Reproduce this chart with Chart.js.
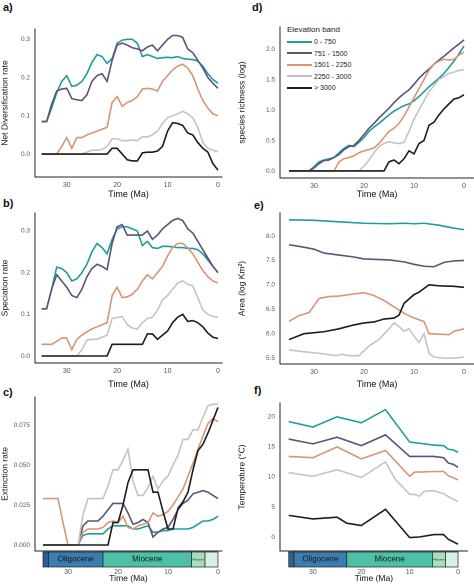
<!DOCTYPE html>
<html><head><meta charset="utf-8">
<script src="https://cdn.jsdelivr.net/npm/chart.js@4"></script>
<style>
body{margin:0;background:#fff;width:474px;height:584px;position:relative;overflow:hidden;font-family:"Liberation Sans",Arial,sans-serif}
canvas{position:absolute}
.lab{position:absolute;font-weight:bold;font-size:11px;color:#111}
#leg{position:absolute;left:287px;top:25px;font-size:7px;color:#222}
#leg .t{font-size:8px;margin-bottom:2px}
#leg .r{height:11.5px;display:flex;align-items:center}
#leg .r span{display:inline-block;width:25px;height:2px;margin-right:2px}
</style></head><body>
<div class="lab" style="left:3px;top:1px">a)</div>
<div class="lab" style="left:3px;top:197px">b)</div>
<div class="lab" style="left:3px;top:386px">c)</div>
<div class="lab" style="left:252px;top:1px">d)</div>
<div class="lab" style="left:254px;top:199px">e)</div>
<div class="lab" style="left:254px;top:384px">f)</div>
<div id="leg"></div>
<canvas id="ca"></canvas><canvas id="cb"></canvas><canvas id="cc"></canvas>
<canvas id="cd"></canvas><canvas id="ce"></canvas><canvas id="cf"></canvas>
<script>
const bands=["0 - 750","751 - 1500","1501 - 2250","2250 - 3000","> 3000"];
const colors=["#1f9c9c","#5d5278","#d89574","#c4c4c4","#1c1c1c"];
const times=[35,34,33,32,31,30,29,28,27,26,25,24,23,22,21,20,19,18,17,16,15,14,13,12,11,10,9,8,7,6,5,4,3,2,1,0];
// a) net diversification
const netDiv=[
[.085,.085,.12,.16,.19,.205,.177,.18,.19,.21,.24,.26,.255,.237,.25,.29,.298,.30,.30,.29,.255,.26,.255,.25,.252,.253,.252,.255,.25,.248,.247,.243,.23,.21,.195,.185],
[.085,.085,.13,.165,.17,.172,.145,.142,.14,.155,.19,.205,.21,.19,.245,.285,.29,.285,.278,.275,.27,.28,.285,.27,.285,.30,.31,.31,.305,.275,.265,.245,.225,.20,.185,.172],
[0,0,0,0,.02,.043,.015,.043,.043,.05,.055,.06,.065,.07,.135,.15,.125,.135,.14,.15,.17,.172,.17,.165,.19,.205,.22,.23,.235,.225,.205,.17,.14,.12,.105,.10],
[0,0,0,0,0,0,0,0,0,.005,.01,.01,.012,.02,.04,.04,.035,.035,.037,.035,.045,.045,.05,.06,.08,.095,.10,.105,.112,.105,.095,.07,.03,.015,.01,.006],
[0,0,0,0,0,0,0,0,0,0,0,0,0,0,.015,.015,0,-.015,-.018,-.018,.003,.005,.005,.008,.02,.06,.082,.08,.075,.055,.05,.03,.015,.005,-.025,-.042]];
// b) speciation
const specRate=[
[.113,.113,.16,.213,.21,.20,.18,.185,.20,.22,.25,.27,.26,.245,.28,.305,.31,.31,.305,.30,.265,.275,.26,.258,.263,.263,.262,.26,.26,.258,.258,.255,.245,.23,.215,.20],
[.113,.113,.16,.195,.18,.165,.145,.14,.16,.19,.21,.22,.215,.207,.27,.31,.315,.29,.29,.29,.29,.30,.28,.29,.305,.315,.325,.33,.325,.305,.295,.275,.255,.235,.215,.20],
[.028,.028,.028,.035,.043,.043,.015,.04,.05,.058,.065,.07,.075,.08,.145,.165,.14,.142,.148,.16,.18,.195,.185,.20,.215,.24,.26,.27,.27,.26,.245,.225,.205,.19,.18,.175],
[0,0,0,0,0,0,0,0,.015,.038,.04,.04,.045,.05,.09,.092,.095,.075,.067,.065,.08,.09,.093,.11,.135,.145,.16,.175,.18,.172,.168,.14,.11,.10,.095,.093],
[0,0,0,0,0,0,0,0,0,0,0,0,0,0,.028,.028,.028,.028,.028,.028,.028,.053,.053,.04,.05,.06,.08,.093,.10,.083,.085,.08,.07,.055,.045,.042]];
// c) extinction
const extRate=[
[0,0,0,0,0,0,0,0,.006,.007,.007,.007,.007,.01,.012,.012,.012,.012,.01,.01,.011,.012,.008,.008,.009,.009,.01,.01,.01,.01,.011,.013,.015,.015,.016,.018],
[0,0,0,0,0,0,0,0,.012,.015,.015,.015,.018,.022,.026,.026,.026,.02,.013,.014,.016,.014,.005,.008,.01,.011,.016,.022,.026,.028,.032,.033,.034,.033,.031,.029],
[.029,.029,.029,.029,.014,0,0,0,.008,.01,.01,.01,.011,.014,.015,.014,.018,.011,.01,.012,.013,.014,.02,.018,.019,.021,.025,.03,.035,.043,.051,.06,.068,.076,.079,.077],
[0,0,0,0,0,0,0,0,.019,.029,.029,.029,.029,.037,.047,.047,.053,.06,.04,.031,.031,.036,.043,.035,.04,.043,.05,.056,.066,.066,.072,.072,.08,.087,.088,.088],
[0,0,0,0,0,0,0,0,0,0,0,0,0,0,.014,.014,.025,.039,.047,.047,.047,.047,.033,.033,.021,.01,.01,.023,.027,.033,.047,.059,.063,.07,.078,.086]];
// d) species richness (log)
const richness=[
[0,0,0,0,0,.07,.15,.18,.20,.22,.30,.37,.42,.40,.47,.55,.65,.72,.78,.85,.92,.98,1.03,1.07,1.10,1.15,1.22,1.30,1.38,1.45,1.52,1.60,1.70,1.80,1.92,2.05],
[0,0,0,0,0,.05,.12,.17,.18,.22,.27,.35,.40,.42,.50,.60,.70,.78,.87,.95,1.03,1.12,1.20,1.27,1.33,1.42,1.52,1.60,1.67,1.75,1.82,1.88,1.95,2.02,2.08,2.15],
[0,0,0,0,0,0,0,0,0,0,.15,.20,.22,.25,.30,.33,.35,.38,.45,.55,.65,.70,.78,.90,1.05,1.20,1.35,1.50,1.65,1.75,1.80,1.83,1.82,1.83,1.90,1.95],
[0,0,0,0,0,0,0,0,0,0,0,0,0,0,0,.08,.18,.30,.40,.45,.48,.46,.45,.47,.65,.85,1.0,1.15,1.30,1.40,1.50,1.55,1.60,1.62,1.65,1.66],
[0,0,0,0,0,0,0,0,0,0,0,0,0,0,0,0,0,0,0,0,.15,.18,.12,.20,.33,.28,.45,.50,.75,.80,.92,1.02,1.10,1.18,1.20,1.25]];
// e) area (log km2)
const areaTimes=[
[35,30,25,20,15,12,10,8,5,2,0],
[35,32,30,28,25,22,20,15,12,10,8,6,4,2,0],
[35,33,31,29,27,25,23,20,18,16,14,12,10,8,7,5,3,2,0],
[35,32,29,27,25.5,24.5,23,21,19,17,15,14,13,12,11,10,9,8,7,6,4,2,0],
[35,32,28,25,22,20,18,16,14,13,12,10,9,7,5,2,0]];
const areaVals=[
[8.33,8.32,8.29,8.26,8.25,8.26,8.25,8.26,8.22,8.16,8.13],
[7.82,7.77,7.73,7.65,7.61,7.57,7.53,7.51,7.47,7.42,7.38,7.37,7.46,7.49,7.50],
[6.25,6.37,6.43,6.72,6.76,6.77,6.80,6.84,6.78,6.68,6.55,6.42,6.32,6.25,6.00,5.99,5.98,6.05,6.10],
[5.67,5.63,5.60,5.57,5.55,5.58,5.55,5.55,5.75,5.88,6.10,6.22,6.15,6.05,6.10,5.95,5.82,6.00,5.60,5.52,5.50,5.50,5.52],
[5.88,6.00,6.04,6.10,6.18,6.22,6.24,6.30,6.32,6.38,6.62,6.80,6.85,7.00,6.98,6.97,6.95]];
// f) temperature
const tempTimes=[
[35,30,25,20,15,10,5,3,2,1,0],
[35,30,25,20,15,10,5,3,2,1,0],
[35,30,25,20,15,10,9,8,5,3,2,0],
[35,30,25,20,15,13,10,9,8,7,5,3,2,0],
[35,30,25,23,20,15,10,8,5,3,2,0]];
const tempVals=[
[19.2,18.3,20.0,19.0,21.2,15.8,15.3,15.2,14.6,14.5,14.1],
[16.3,15.5,16.6,15.2,17.0,13.4,13.4,13.2,12.3,12.1,11.6],
[13.4,13.2,15.0,13.0,14.4,10.1,10.8,10.8,10.9,10.9,10.2,9.5],
[10.7,10.1,11.2,9.9,12.5,9.6,7.1,7.1,6.8,7.6,7.7,7.2,6.7,5.9],
[3.6,3.0,3.3,2.3,1.9,4.6,-0.1,0.0,0.4,0.4,-0.4,-1.2]];
const epochs=[
 {name:"",from:35,to:33.9,color:"#2f5f93"},
 {name:"Oligocene",from:33.9,to:23,color:"#3a7db3"},
 {name:"Miocene",from:23,to:5.3,color:"#4cc0a8"},
 {name:"Pliocene",from:5.3,to:2.6,color:"#a6dfbd"},
 {name:"",from:2.6,to:0,color:"#d6f1e1"}];

document.getElementById('leg').innerHTML='<div class="t">Elevation band</div>'+bands.map((b,i)=>`<div class="r"><span style="background:${colors[i]}"></span>${b}</div>`).join('');

const geoPlugin={id:'geo',afterDraw(ch,args,o){
 if(!o.on)return;const x=ch.scales.x,ctx=ch.ctx,y0=ch.chartArea.bottom+1,h=15;
 epochs.forEach(e=>{const a=x.getPixelForValue(e.from),b=x.getPixelForValue(e.to);
  ctx.fillStyle=e.color;ctx.fillRect(a,y0,b-a,h);ctx.strokeStyle="#222";ctx.lineWidth=0.7;ctx.strokeRect(a,y0,b-a,h);
  if(e.name){ctx.fillStyle="#1a1a1a";ctx.font=(e.name==="Pliocene"?"3px":"8px")+" Liberation Sans";ctx.textAlign="center";ctx.textBaseline="middle";ctx.fillText(e.name,(a+b)/2,y0+h/2);}
 });}};
Chart.register(geoPlugin);

function mk(id,L,T,W,H,area,yMin,yMax,step,dec,yTitle,xMin,xMax,series,geo){
 const c=document.getElementById(id);c.style.left=L+'px';c.style.top=T+'px';c.style.width=W+'px';c.style.height=H+'px';
 const [al,at,ar,ab]=area;
 new Chart(c,{type:'line',data:{datasets:series.map((s,i)=>({data:s,borderColor:colors[i],borderWidth:1.6,pointRadius:0,tension:0,fill:false})).reverse()},
 options:{responsive:false,animation:false,devicePixelRatio:2,
  layout:{padding:{top:at-T,right:L+W-ar,left:0,bottom:0}},
  plugins:{legend:{display:false},tooltip:{enabled:false},geo:{on:geo}},
  scales:{
   x:{type:'linear',reverse:true,min:xMin,max:xMax,grid:{display:false,drawTicks:true,tickLength:3,tickColor:'#333'},border:{color:'#222',width:1},
    afterBuildTicks(a){a.ticks=[30,20,10,0].map(v=>({value:v}));},
    afterFit(a){a.height=T+H-ab;},
    ticks:{color:'#555',font:{size:7},padding:geo?14:1,callback:v=>String(v)},
    title:{display:true,text:'Time (Ma)',color:'#111',font:{size:geo?8.5:9},padding:{top:geo?-1:1,bottom:0}}},
   y:{min:yMin,max:yMax,grid:{display:false,tickLength:3,tickColor:'#333'},border:{color:'#222',width:1},
    afterBuildTicks(a){const t=[];for(let v=Math.ceil(yMin/step-1e-9)*step;v<=yMax+1e-9;v+=step)t.push({value:+v.toFixed(4)});a.ticks=t;},
    afterFit(a){a.width=al-L;},
    ticks:{color:'#555',font:{size:6.5},padding:2,callback:v=>(+v).toFixed(dec)},
    title:{display:true,text:yTitle,color:'#111',font:{size:8.5},padding:{top:0,bottom:2}}}}}});
}
const pts=(ts,vs)=>vs.map((v,i)=>({x:ts[i],y:v}));
const S=arr=>arr.map(v=>pts(times,v));
mk('ca',0,0,237,200,[35,29,222,177],-0.06,0.327,0.1,1,'Net Diversification rate',-0.8,36.3,S(netDiv),false);
mk('cb',0,190,237,200,[35,213,222,363],-0.0168,0.343,0.1,1,'Speciation rate',-0.8,36.3,S(specRate),false);
mk('cc',0,380,237,204,[35,397,222,551],-0.00375,0.0925,0.025,3,'Extinction rate',-0.8,36.6,S(extRate),true);
mk('cd',237,0,237,200,[280,27,474,178],-0.115,2.36,0.5,1,'species richness (log)',-2,36.8,S(richness),false);
mk('ce',237,190,237,200,[280,213,474,364],5.38,8.47,0.5,1,'Area (log Km²)',-2,36.8,areaVals.map((v,i)=>pts(areaTimes[i],v)),false);
mk('cf',237,380,237,204,[280,403,474,551],-2.33,22.3,5,0,'Temperature (°C)',-2,36.8,tempVals.map((v,i)=>pts(tempTimes[i],v)),true);
</script></body></html>
